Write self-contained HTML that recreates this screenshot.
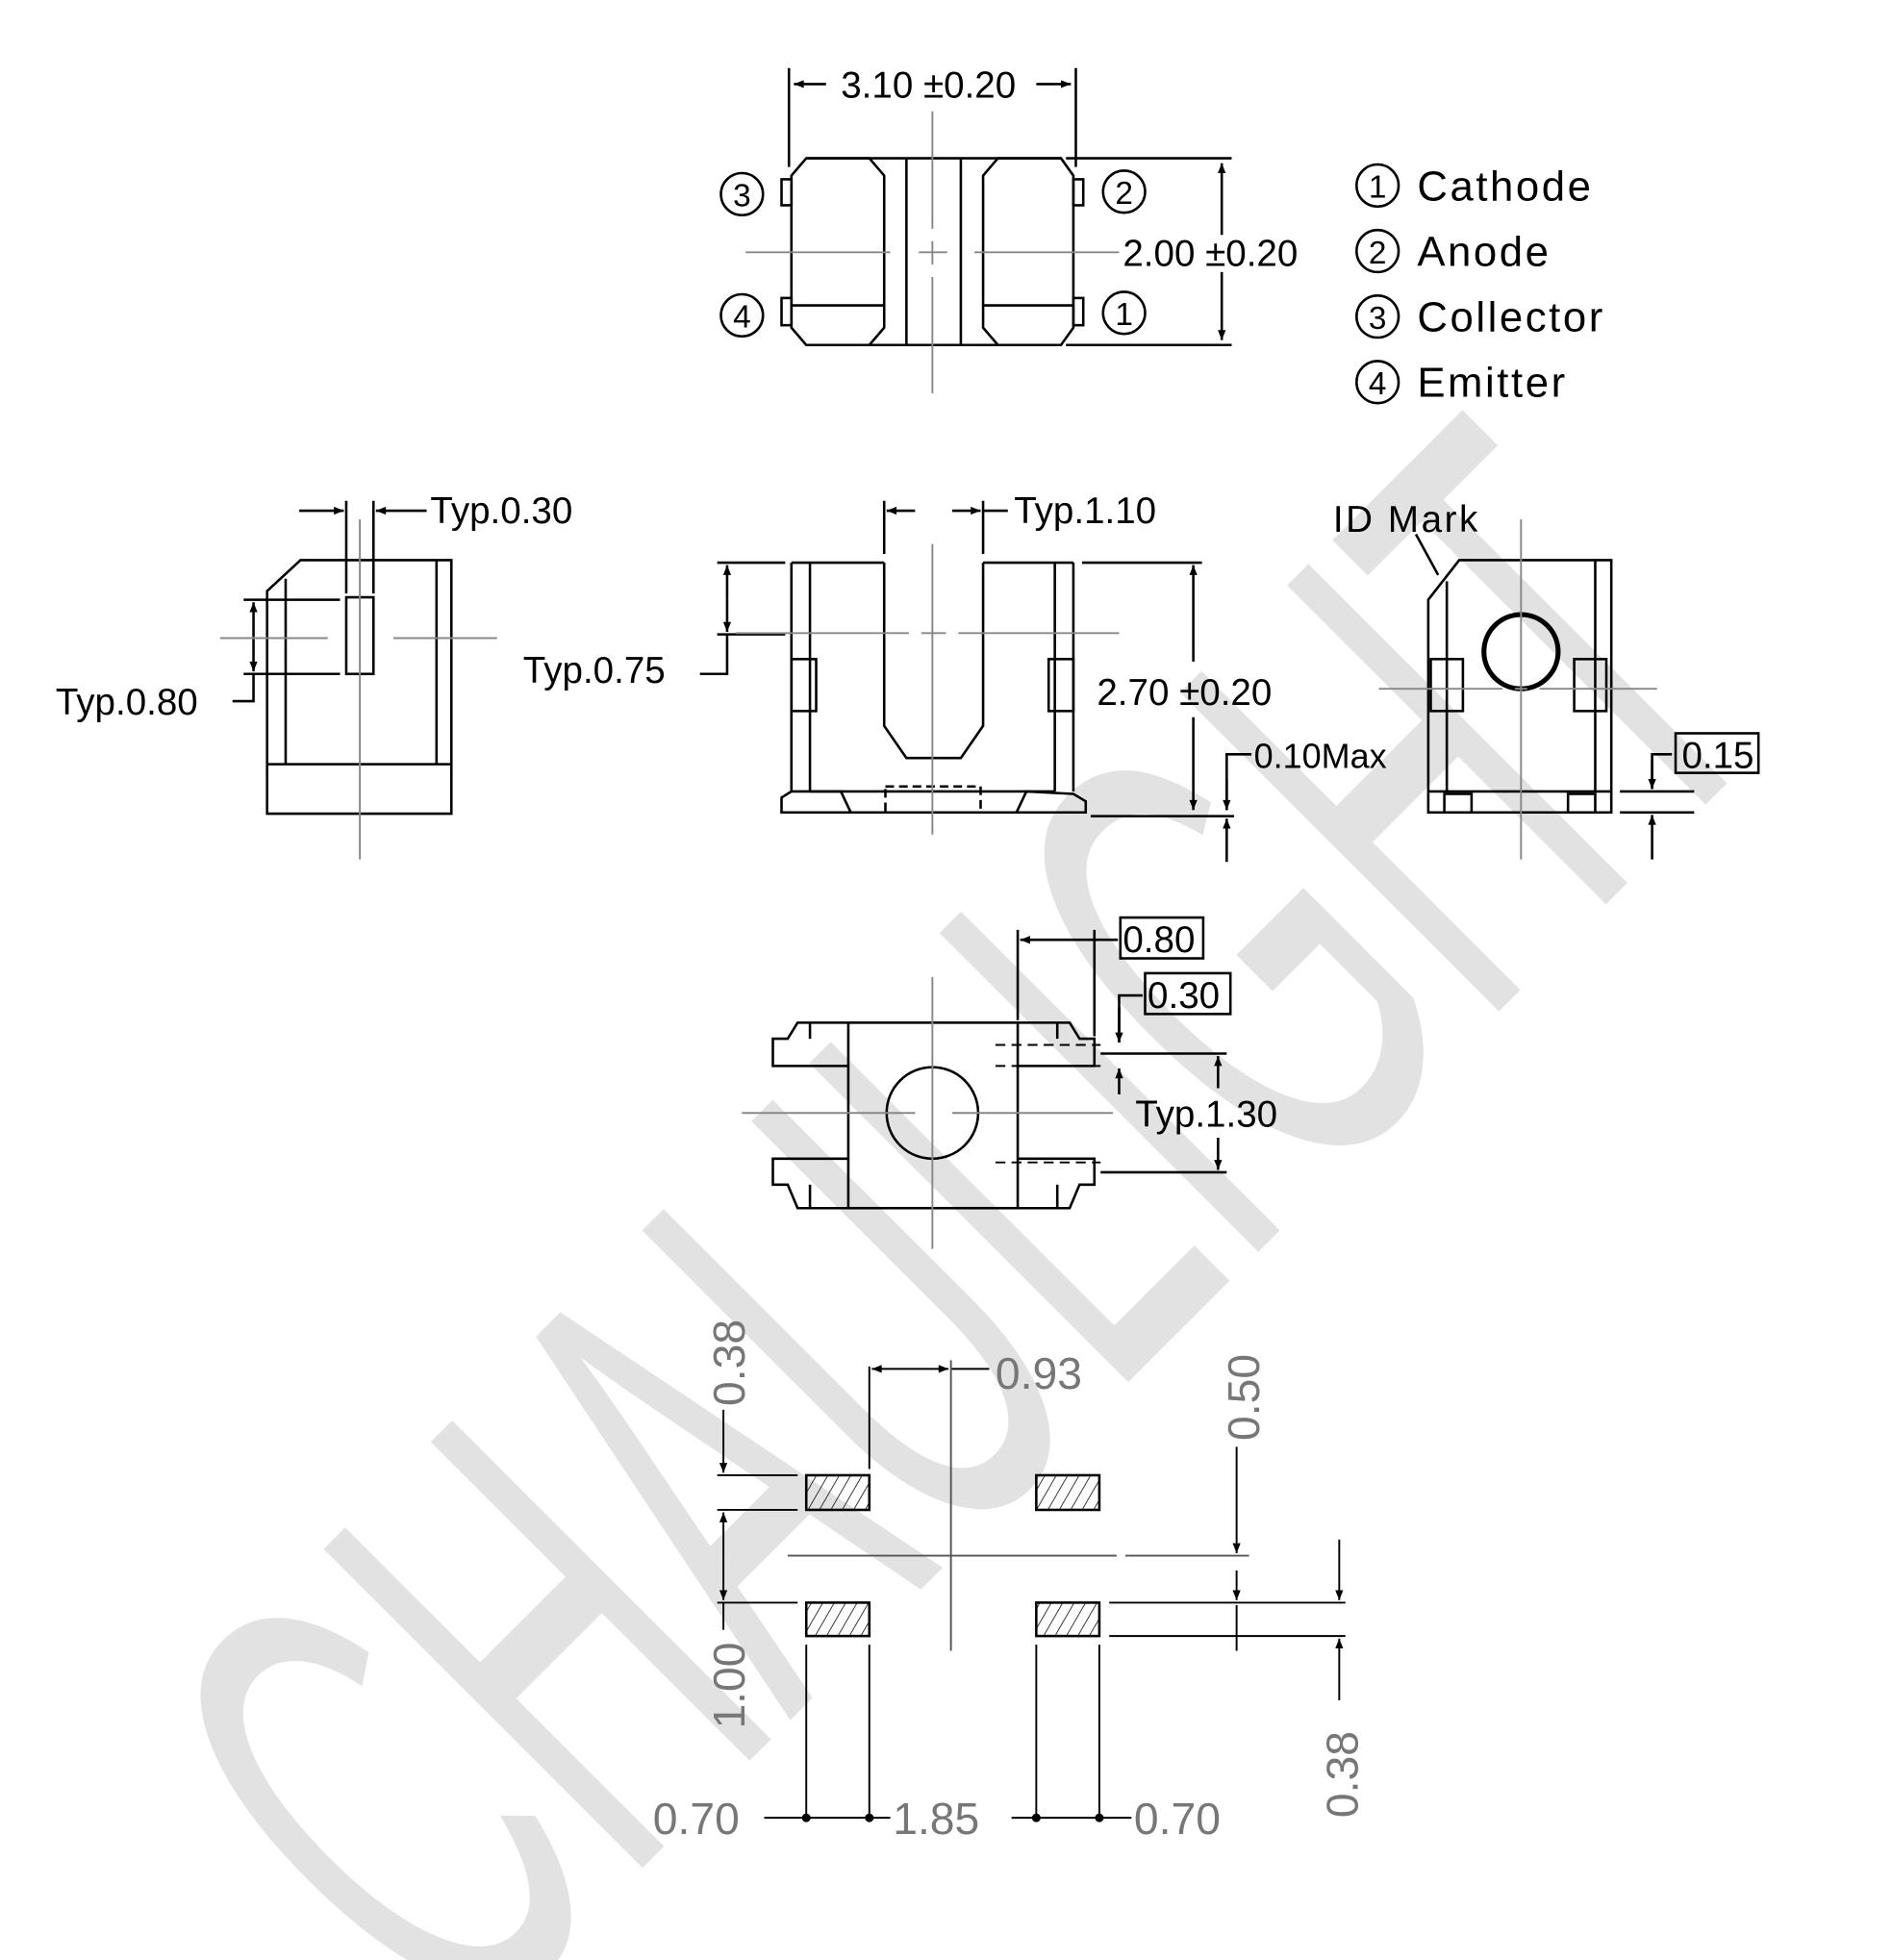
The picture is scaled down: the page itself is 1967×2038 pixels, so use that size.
<!DOCTYPE html>
<html><head><meta charset="utf-8"><style>
html,body{margin:0;padding:0;background:#fff;width:1967px;height:2038px;overflow:hidden;}
svg{display:block}
text{font-family:"Liberation Sans",sans-serif;}
</style></head><body>
<svg width="1967" height="2038" viewBox="0 0 1530 1585" preserveAspectRatio="none" xmlns="http://www.w3.org/2000/svg">
<defs>
<marker id="a" viewBox="0 0 10 10" refX="10" refY="5" markerWidth="12" markerHeight="8" markerUnits="userSpaceOnUse" orient="auto-start-reverse"><path d="M0,1 L10,5 L0,9 z" fill="#000"/></marker>
<pattern id="h" width="8" height="8" patternUnits="userSpaceOnUse" patternTransform="rotate(30)"><line x1="0" y1="0" x2="0" y2="8" stroke="#000" stroke-width="1.2"/></pattern>
</defs>
<rect width="1530" height="1585" fill="#fff"/>
<!-- watermark -->
<text x="0" y="0" transform="translate(370,1660) rotate(-45)" font-size="530" fill="#e2e2e2" textLength="1520" lengthAdjust="spacingAndGlyphs">CHAULIGHT</text>

<g stroke="#000" stroke-width="2" fill="none">
<!-- TOP VIEW -->
<line x1="638" y1="55" x2="638" y2="135"/><line x1="870" y1="55" x2="870" y2="135"/>
<line x1="668" y1="68" x2="642" y2="68" marker-end="url(#a)"/><line x1="838" y1="68" x2="866" y2="68" marker-end="url(#a)"/>
<line x1="652" y1="128" x2="858" y2="128"/><line x1="652" y1="279" x2="858" y2="279"/>
<path d="M652,128 L703,128 L715,142 L715,265 L703,279 L652,279 L640,265 L640,142 Z"/>
<path d="M807,128 L858,128 L868,142 L868,265 L858,279 L807,279 L795,265 L795,142 Z"/>
<line x1="733" y1="128" x2="733" y2="279"/><line x1="777" y1="128" x2="777" y2="279"/>
<line x1="640" y1="247" x2="715" y2="247"/><line x1="795" y1="247" x2="868" y2="247"/>
<rect x="632" y="145" width="8" height="21"/><rect x="632" y="241" width="8" height="22"/>
<rect x="868" y="145" width="8" height="21"/><rect x="868" y="241" width="8" height="22"/>
<line x1="862" y1="128" x2="996" y2="128"/><line x1="862" y1="279" x2="996" y2="279"/>
<line x1="988" y1="190" x2="988" y2="132" marker-end="url(#a)"/><line x1="988" y1="220" x2="988" y2="275" marker-end="url(#a)"/>
<circle cx="600" cy="157" r="17"/><circle cx="600" cy="255" r="17"/><circle cx="909" cy="155" r="17"/><circle cx="909" cy="253" r="17"/>
<circle cx="1114" cy="150" r="17"/><circle cx="1114" cy="203" r="17"/><circle cx="1114" cy="256" r="17"/><circle cx="1114" cy="309" r="17"/>
</g>
<g stroke="#888" stroke-width="1.5">
<line x1="754" y1="90" x2="754" y2="185"/><line x1="754" y1="195" x2="754" y2="214"/><line x1="754" y1="224" x2="754" y2="318"/>
<line x1="603" y1="204" x2="720" y2="204"/><line x1="743" y1="204" x2="766" y2="204"/><line x1="788" y1="204" x2="905" y2="204"/>
</g>
<g font-size="30" fill="#000">
<text x="680" y="79">3.10 ±0.20</text>
<text x="908" y="215">2.00 ±0.20</text>
<text x="600" y="167" font-size="26" text-anchor="middle">3</text><text x="600" y="265" font-size="26" text-anchor="middle">4</text>
<text x="909" y="165" font-size="26" text-anchor="middle">2</text><text x="909" y="263" font-size="26" text-anchor="middle">1</text>
<g font-size="26" text-anchor="middle"><text x="1114" y="160">1</text><text x="1114" y="213">2</text><text x="1114" y="266">3</text><text x="1114" y="319">4</text></g>
<g font-size="34" letter-spacing="2"><text x="1146" y="162">Cathode</text><text x="1146" y="215">Anode</text><text x="1146" y="268">Collector</text><text x="1146" y="321">Emitter</text></g>
</g>

<!-- SIDE LEFT -->
<g stroke="#000" stroke-width="2" fill="none">
<path d="M216,658 L216,478 L243,453 L365,453 L365,658 Z"/>
<line x1="231" y1="468" x2="231" y2="618"/><line x1="353" y1="453" x2="353" y2="618"/>
<line x1="216" y1="618" x2="365" y2="618"/>
<rect x="280" y="483" width="22" height="62"/>
<line x1="280" y1="405" x2="280" y2="480"/><line x1="302" y1="405" x2="302" y2="480"/>
<line x1="242" y1="413" x2="278" y2="413" marker-end="url(#a)"/><line x1="345" y1="413" x2="304" y2="413" marker-end="url(#a)"/>
<line x1="197" y1="485" x2="275" y2="485"/><line x1="197" y1="545" x2="275" y2="545"/>
<line x1="205" y1="515" x2="205" y2="487" marker-end="url(#a)"/><line x1="205" y1="515" x2="205" y2="543" marker-end="url(#a)"/>
<polyline points="205,545 205,567 188,567"/>
</g>
<g stroke="#888" stroke-width="1.5"><line x1="291" y1="420" x2="291" y2="695"/><line x1="178" y1="516" x2="265" y2="516"/><line x1="318" y1="516" x2="402" y2="516"/></g>
<g font-size="30" fill="#000"><text x="348" y="423">Typ.0.30</text><text x="45" y="578">Typ.0.80</text></g>

<!-- FRONT CENTER -->
<g stroke="#000" stroke-width="2" fill="none">
<line x1="640" y1="455" x2="640" y2="640"/><line x1="655" y1="455" x2="655" y2="640"/>
<line x1="868" y1="455" x2="868" y2="640"/><line x1="853" y1="455" x2="853" y2="640"/>
<line x1="640" y1="455" x2="715" y2="455"/><line x1="795" y1="455" x2="868" y2="455"/>
<polyline points="715,455 715,587 733,613 777,613 795,587 795,455"/>
<rect x="640" y="533" width="20" height="42"/><rect x="848" y="533" width="20" height="42"/>
<line x1="655" y1="640" x2="853" y2="640"/>
<path d="M632,657 L632,645 L640,640 L680,640 L688,657 Z"/>
<path d="M878,657 L878,648 L868,642 L830,640 L822,657 Z"/>
<line x1="632" y1="657" x2="878" y2="657"/>
<rect x="716" y="636" width="77" height="21" stroke-dasharray="7,4"/>
<line x1="715" y1="405" x2="715" y2="448"/><line x1="795" y1="405" x2="795" y2="448"/>
<line x1="740" y1="413" x2="717" y2="413" marker-end="url(#a)"/><line x1="770" y1="413" x2="793" y2="413" marker-end="url(#a)"/><line x1="795" y1="413" x2="815" y2="413"/>
<line x1="580" y1="455" x2="635" y2="455"/><line x1="580" y1="513" x2="635" y2="513"/>
<line x1="588" y1="485" x2="588" y2="457" marker-end="url(#a)"/><line x1="588" y1="485" x2="588" y2="511" marker-end="url(#a)"/>
<polyline points="588,513 588,545 566,545"/>
<line x1="875" y1="455" x2="972" y2="455"/><line x1="882" y1="660" x2="998" y2="660"/>
<line x1="965" y1="535" x2="965" y2="457" marker-end="url(#a)"/><line x1="965" y1="580" x2="965" y2="655" marker-end="url(#a)"/>
<polyline points="1012,610 992,610 992,655" /><line x1="992" y1="630" x2="992" y2="655" marker-end="url(#a)"/>
<line x1="992" y1="697" x2="992" y2="662" marker-end="url(#a)"/>
</g>
<g stroke="#888" stroke-width="1.5"><line x1="754" y1="440" x2="754" y2="675"/><line x1="595" y1="512" x2="735" y2="512"/><line x1="745" y1="512" x2="765" y2="512"/><line x1="775" y1="512" x2="905" y2="512"/></g>
<g font-size="30" fill="#000"><text x="820" y="423">Typ.1.10</text><text x="423" y="552">Typ.0.75</text><text x="887" y="570">2.70 ±0.20</text><text x="1014" y="621" font-size="28">0.10Max</text></g>

<!-- RIGHT VIEW -->
<g stroke="#000" stroke-width="2" fill="none">
<path d="M1155,657 L1155,485 L1180,453 L1303,453 L1303,657 Z"/>
<line x1="1170" y1="470" x2="1170" y2="640"/><line x1="1290" y1="453" x2="1290" y2="640"/>
<line x1="1155" y1="640" x2="1303" y2="640"/>
<circle cx="1230" cy="527" r="30" stroke-width="4"/>
<rect x="1157" y="533" width="26" height="42"/><rect x="1273" y="533" width="26" height="42"/>
<rect x="1168" y="642" width="22" height="15"/><rect x="1268" y="642" width="22" height="15"/>
<line x1="1163" y1="465" x2="1145" y2="432"/>
<line x1="1310" y1="640" x2="1370" y2="640"/><line x1="1310" y1="657" x2="1370" y2="657"/>
<polyline points="1352,610 1336,610 1336,638"/><line x1="1336" y1="615" x2="1336" y2="638" marker-end="url(#a)"/>
<line x1="1336" y1="695" x2="1336" y2="659" marker-end="url(#a)"/>
<rect x="1355" y="593" width="67" height="32"/>
</g>
<g stroke="#888" stroke-width="1.5"><line x1="1230" y1="420" x2="1230" y2="695"/><line x1="1115" y1="557" x2="1215" y2="557"/><line x1="1225" y1="557" x2="1235" y2="557"/><line x1="1245" y1="557" x2="1340" y2="557"/></g>
<g font-size="30" fill="#000"><text x="1078" y="430" letter-spacing="2">ID Mark</text><text x="1360" y="621">0.15</text></g>

<!-- BOTTOM VIEW -->
<g stroke="#000" stroke-width="2" fill="none">
<rect x="686" y="827" width="137" height="150"/>
<path d="M686,827 L645,827 L637,840 L625,840 L625,862 L686,862"/>
<path d="M686,977 L645,977 L637,958 L625,958 L625,937 L686,937"/>
<line x1="655" y1="827" x2="655" y2="840"/><line x1="655" y1="958" x2="655" y2="977"/>
<path d="M823,827 L865,827 L873,840 L885,840 L885,862 L823,862"/>
<path d="M823,977 L865,977 L873,958 L885,958 L885,937 L823,937"/>
<line x1="855" y1="827" x2="855" y2="840"/><line x1="855" y1="958" x2="855" y2="977"/>
<circle cx="754" cy="900" r="37"/>
<line x1="823" y1="752" x2="823" y2="825"/><line x1="885" y1="752" x2="885" y2="838"/>
<line x1="885" y1="760" x2="825" y2="760" marker-end="url(#a)"/><line x1="885" y1="760" x2="904" y2="760"/>
<rect x="906" y="742" width="67" height="33"/>
<rect x="926" y="787" width="69" height="33"/>
<polyline points="924,805 905,805 905,843"/><line x1="905" y1="815" x2="905" y2="843" marker-end="url(#a)"/>
<line x1="905" y1="885" x2="905" y2="864" marker-end="url(#a)"/>
<line x1="890" y1="852" x2="992" y2="852"/><line x1="890" y1="948" x2="992" y2="948"/>
<line x1="985" y1="880" x2="985" y2="854" marker-end="url(#a)"/><line x1="985" y1="920" x2="985" y2="946" marker-end="url(#a)"/>
</g>
<g stroke="#000" stroke-width="1.5" stroke-dasharray="8,5"><line x1="805" y1="845" x2="890" y2="845"/><line x1="805" y1="862" x2="890" y2="862"/><line x1="805" y1="940" x2="890" y2="940"/></g>
<g stroke="#888" stroke-width="1.5"><line x1="754" y1="790" x2="754" y2="1010"/><line x1="600" y1="900" x2="740" y2="900"/><line x1="770" y1="900" x2="900" y2="900"/></g>
<g font-size="30" fill="#000"><text x="908" y="770">0.80</text><text x="928" y="815">0.30</text><text x="918" y="911">Typ.1.30</text></g>

<!-- FOOTPRINT -->
<g stroke="#000" stroke-width="2">
<rect x="652" y="1193" width="51" height="28" fill="url(#h)"/><rect x="838" y="1193" width="51" height="28" fill="url(#h)"/>
<rect x="652" y="1296" width="51" height="27" fill="url(#h)"/><rect x="838" y="1296" width="51" height="27" fill="url(#h)"/>
</g>
<g stroke="#000" stroke-width="1.5" fill="none">
<line x1="580" y1="1193" x2="645" y2="1193"/><line x1="580" y1="1221" x2="645" y2="1221"/><line x1="580" y1="1296" x2="645" y2="1296"/>
<line x1="897" y1="1296" x2="1088" y2="1296"/><line x1="897" y1="1323" x2="1088" y2="1323"/>
<line x1="585" y1="1140" x2="585" y2="1191" marker-end="url(#a)"/><line x1="585" y1="1260" x2="585" y2="1223" marker-end="url(#a)"/><line x1="585" y1="1260" x2="585" y2="1294" marker-end="url(#a)"/><line x1="585" y1="1296" x2="585" y2="1318"/>
<line x1="1000" y1="1170" x2="1000" y2="1256" marker-end="url(#a)"/><line x1="1000" y1="1270" x2="1000" y2="1294" marker-end="url(#a)"/><line x1="1000" y1="1298" x2="1000" y2="1335"/>
<line x1="1083" y1="1245" x2="1083" y2="1294" marker-end="url(#a)"/><line x1="1083" y1="1375" x2="1083" y2="1325" marker-end="url(#a)"/>
<line x1="703" y1="1105" x2="703" y2="1188"/>
<line x1="735" y1="1107" x2="705" y2="1107" marker-end="url(#a)"/><line x1="735" y1="1107" x2="767" y2="1107" marker-end="url(#a)"/><line x1="769" y1="1107" x2="800" y2="1107"/>
<line x1="652" y1="1330" x2="652" y2="1470"/><line x1="703" y1="1330" x2="703" y2="1470"/><line x1="838" y1="1330" x2="838" y2="1470"/><line x1="889" y1="1330" x2="889" y2="1470"/>
<line x1="618" y1="1470" x2="720" y2="1470"/><line x1="818" y1="1470" x2="915" y2="1470"/>
</g>
<g fill="#000"><circle cx="652" cy="1470" r="3.5"/><circle cx="703" cy="1470" r="3.5"/><circle cx="838" cy="1470" r="3.5"/><circle cx="889" cy="1470" r="3.5"/></g>
<g stroke="#555" stroke-width="1.5"><line x1="769" y1="1100" x2="769" y2="1335"/><line x1="637" y1="1258" x2="903" y2="1258"/><line x1="910" y1="1258" x2="1010" y2="1258"/></g>
<g font-size="36" fill="#777">
<text x="805" y="1123">0.93</text>
<text x="0" y="0" transform="translate(602,1137) rotate(-90)">0.38</text>
<text x="0" y="0" transform="translate(602,1398) rotate(-90)">1.00</text>
<text x="0" y="0" transform="translate(1018,1165) rotate(-90)">0.50</text>
<text x="0" y="0" transform="translate(1098,1470) rotate(-90)">0.38</text>
<text x="528" y="1483">0.70</text><text x="722" y="1483">1.85</text><text x="917" y="1483">0.70</text>
</g>
</svg>
</body></html>
